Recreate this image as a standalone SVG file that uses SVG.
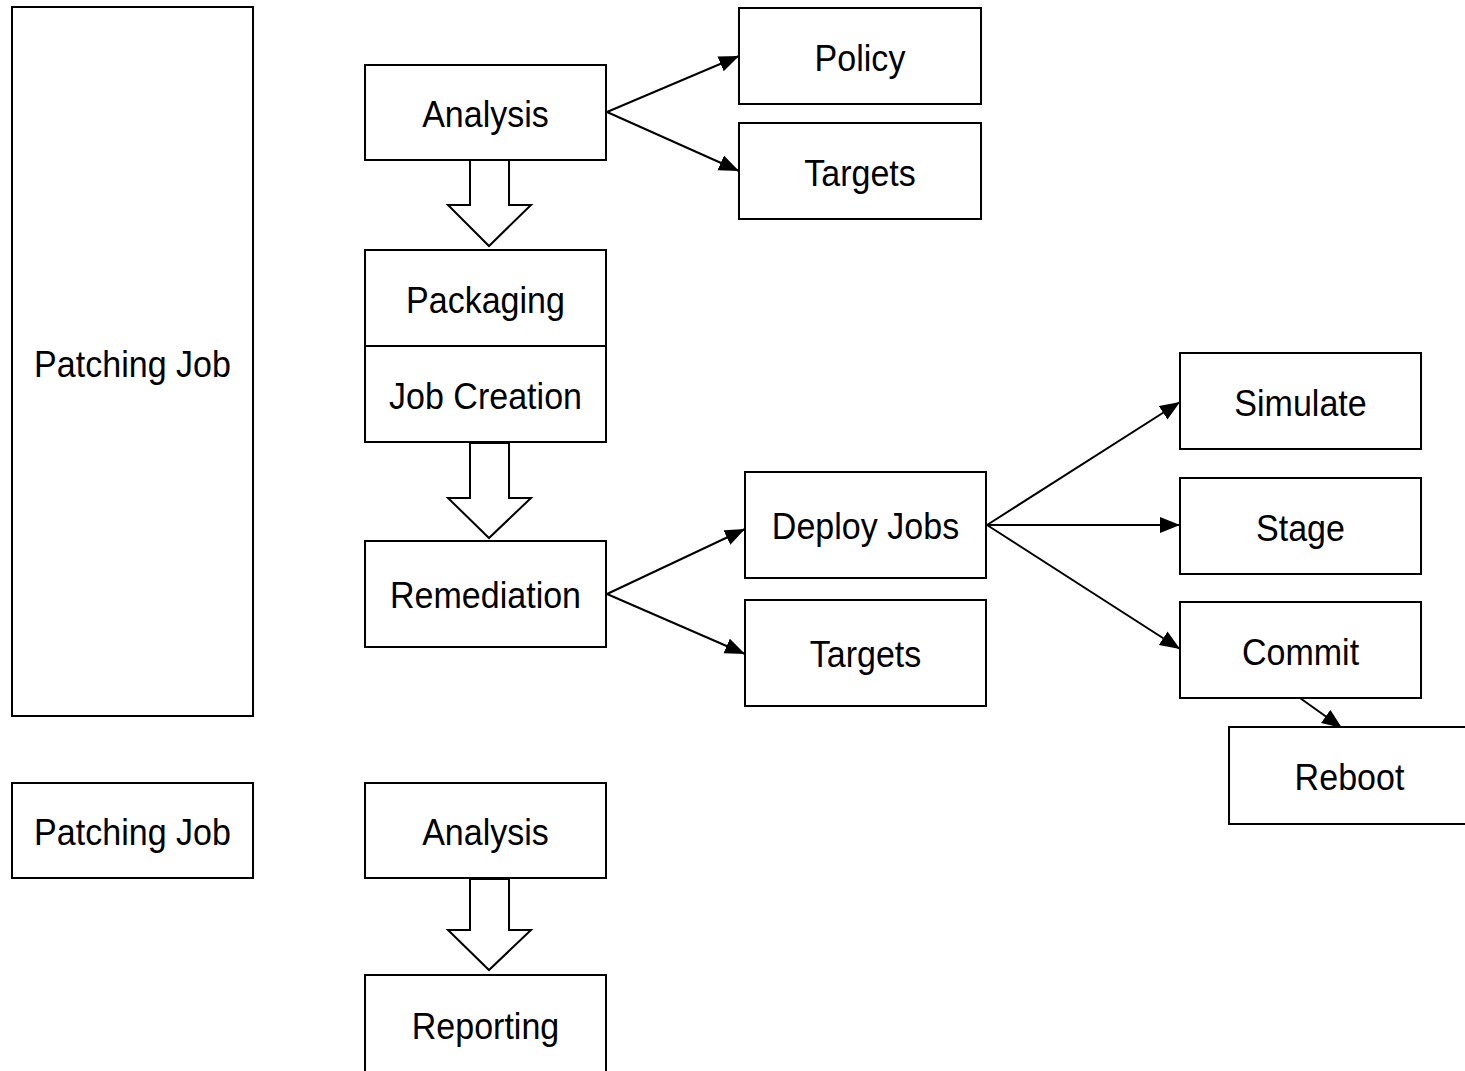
<svg xmlns="http://www.w3.org/2000/svg" width="1465" height="1071" viewBox="0 0 1465 1071">
<style>
rect.box{fill:#fff;stroke:#000;stroke-width:2}
.blk{fill:#fff;stroke:#000;stroke-width:2}
text{font-family:"Liberation Sans",Arial,sans-serif;font-size:37px;fill:#000;text-anchor:middle}
.conn line{stroke:#000;stroke-width:2;marker-end:url(#ah)}
</style>
<defs>
<marker id="ah" markerUnits="userSpaceOnUse" markerWidth="22" markerHeight="18" refX="20" refY="8" orient="auto">
<path d="M0,0 L20,8 L0,16 Z" fill="#000"/>
</marker>
</defs>
<g id="connectors">
<g class="conn">
<line x1="607" y1="112" x2="739" y2="56"/>
<line x1="607" y1="112" x2="739" y2="171"/>
<line x1="607" y1="594" x2="745" y2="529"/>
<line x1="607" y1="594" x2="745" y2="654"/>
<line x1="987" y1="525" x2="1180" y2="402"/>
<line x1="987" y1="525" x2="1180" y2="525"/>
<line x1="987" y1="525" x2="1180" y2="649"/>
<line x1="1300" y1="698" x2="1342" y2="728"/>
</g>
</g>
<g id="patching-job-1"><rect class="box" x="12" y="7" width="241" height="709"/><text transform="translate(132.5,377) scale(0.92,1)">Patching Job</text></g>
<g id="analysis-1"><rect class="box" x="365" y="65" width="241" height="95"/><text transform="translate(485.5,127) scale(0.92,1)">Analysis</text></g>
<g id="policy"><rect class="box" x="739" y="8" width="242" height="96"/><text transform="translate(860,71) scale(0.92,1)">Policy</text></g>
<g id="targets-1"><rect class="box" x="739" y="123" width="242" height="96"/><text transform="translate(860,186) scale(0.92,1)">Targets</text></g>
<g id="packaging"><rect class="box" x="365" y="250" width="241" height="96"/><text transform="translate(485.5,313) scale(0.92,1)">Packaging</text></g>
<g id="job-creation"><rect class="box" x="365" y="346" width="241" height="96"/><text transform="translate(485.5,409) scale(0.92,1)">Job Creation</text></g>
<g id="remediation"><rect class="box" x="365" y="541" width="241" height="106"/><text transform="translate(485.5,608) scale(0.92,1)">Remediation</text></g>
<g id="deploy-jobs"><rect class="box" x="745" y="472" width="241" height="106"/><text transform="translate(865.5,539) scale(0.92,1)">Deploy Jobs</text></g>
<g id="targets-2"><rect class="box" x="745" y="600" width="241" height="106"/><text transform="translate(865.5,667) scale(0.92,1)">Targets</text></g>
<g id="simulate"><rect class="box" x="1180" y="353" width="241" height="96"/><text transform="translate(1300.5,416) scale(0.92,1)">Simulate</text></g>
<g id="stage"><rect class="box" x="1180" y="478" width="241" height="96"/><text transform="translate(1300.5,541) scale(0.92,1)">Stage</text></g>
<g id="commit"><rect class="box" x="1180" y="602" width="241" height="96"/><text transform="translate(1300.5,665) scale(0.92,1)">Commit</text></g>
<g id="reboot"><rect class="box" x="1229" y="727" width="250" height="97"/><text transform="translate(1349.5,790) scale(0.92,1)">Reboot</text></g>
<g id="patching-job-2"><rect class="box" x="12" y="783" width="241" height="95"/><text transform="translate(132.5,845) scale(0.92,1)">Patching Job</text></g>
<g id="analysis-2"><rect class="box" x="365" y="783" width="241" height="95"/><text transform="translate(485.5,845) scale(0.92,1)">Analysis</text></g>
<g id="reporting"><rect class="box" x="365" y="975" width="241" height="100"/><text transform="translate(485.5,1039) scale(0.92,1)">Reporting</text></g>
<g id="block-arrows">
<polygon class="blk" points="470,160 509,160 509,205 531,205 489,246 448,205 470,205"/>
<polygon class="blk" points="470,443 509,443 509,498 531,498 489,538 448,498 470,498"/>
<polygon class="blk" points="470,879 509,879 509,930 531,930 489,970 448,930 470,930"/>
</g>
</svg>
